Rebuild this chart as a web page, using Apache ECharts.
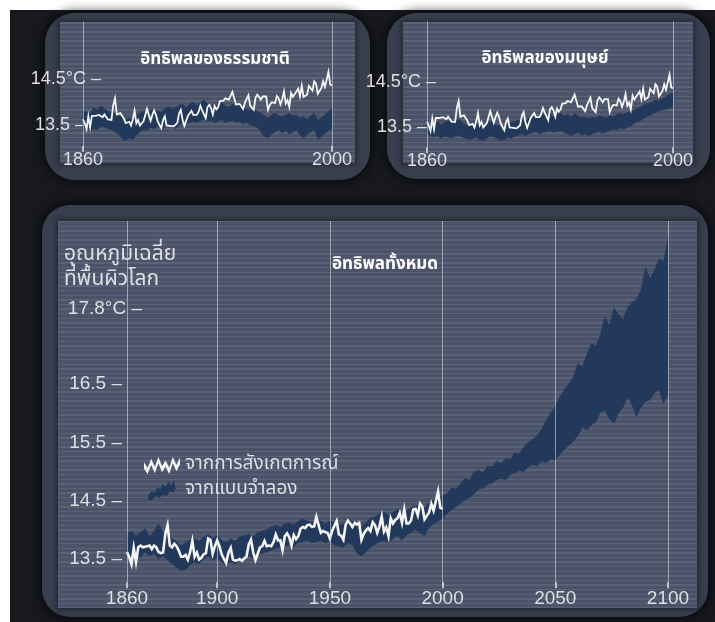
<!DOCTYPE html>
<html>
<head>
<meta charset="utf-8">
<script src="https://cdn.jsdelivr.net/npm/echarts@6/dist/echarts.min.js"></script>
<style>
  html, body { margin: 0; padding: 0; }
  body { width: 715px; height: 622px; position: relative; overflow: hidden;
         background: #17191f; }
  .edge-top { position: absolute; left: 0; top: 0; width: 715px; height: 10px; background: #fff; }
  .edge-left { position: absolute; left: 0; top: 0; width: 10px; height: 622px; background: #fff; }
  .panel { position: absolute; background: #393f4e; border-radius: 30px;
           box-shadow: 0 0 10px 3px rgba(0,0,0,0.55); }
  .plot { position: absolute; background-color: #4b5369;
          background-image: repeating-linear-gradient(180deg,
              rgba(150,158,182,0.20) 0px, rgba(150,158,182,0.20) 1.5px,
              rgba(0,0,0,0) 1.5px, rgba(0,0,0,0) 4.6px);
          box-shadow: 0 0 5px 2px rgba(20,22,30,0.55); }
  #chart { position: absolute; left: 0; top: 0; width: 715px; height: 622px; }
</style>
</head>
<body>
<div class="edge-top"></div>
<div class="edge-left"></div>
<div class="panel" style="left:45px;top:13px;width:325px;height:167px;"></div>
<div class="plot"  style="left:60px;top:22px;width:295px;height:141px;"></div>
<div class="panel" style="left:387px;top:13px;width:323px;height:166px;"></div>
<div class="plot"  style="left:403px;top:22px;width:290px;height:141px;"></div>
<div class="panel" style="left:42px;top:205px;width:666px;height:412px;border-radius:28px;"></div>
<div class="plot"  style="left:58px;top:221px;width:639px;height:387px;"></div>
<div id="chart"></div>
<script>
// Observed annual mean surface temperature (°C), 1860 to 2000
const OBS_START = 1860;
const OBS_TEMP = [
  13.62, 13.53, 13.41, 13.69, 13.45, 13.70, 13.73, 13.70, 13.71, 13.72,
  13.73, 13.67, 13.73, 13.70, 13.62, 13.60, 13.61, 13.93, 14.08, 13.73,
  13.70, 13.76, 13.72, 13.64, 13.54, 13.54, 13.57, 13.49, 13.62, 13.81,
  13.54, 13.61, 13.49, 13.52, 13.58, 13.60, 13.85, 13.83, 13.59, 13.72,
  13.82, 13.72, 13.58, 13.50, 13.43, 13.61, 13.69, 13.49, 13.47, 13.48,
  13.50, 13.47, 13.51, 13.54, 13.75, 13.83, 13.61, 13.48, 13.59, 13.70,
  13.72, 13.81, 13.72, 13.73, 13.72, 13.79, 13.92, 13.82, 13.82, 13.65,
  13.89, 13.94, 13.87, 13.73, 13.91, 13.84, 13.89, 14.02, 14.05, 14.03,
  14.08, 14.09, 14.05, 14.06, 14.22, 14.08, 13.95, 13.98, 13.96, 13.95,
  13.85, 13.98, 14.07, 14.15, 13.92, 13.90, 13.83, 14.09, 14.16, 14.11,
  14.05, 14.12, 14.09, 14.12, 13.83, 13.93, 13.99, 14.03, 13.98, 14.13,
  14.08, 13.95, 14.06, 14.23, 13.97, 14.04, 13.89, 14.20, 14.11, 14.17,
  14.20, 14.29, 14.12, 14.35, 14.11, 14.11, 14.16, 14.35, 14.36, 14.25,
  14.45, 14.40, 14.18, 14.24, 14.30, 14.45, 14.33, 14.49, 14.66, 14.38,
  14.36
];

// Model range, natural + human forcing, every 2 years from 1860 to 2100
const BAND_START = 1860;
const BAND_STEP = 2;
const ALL_LO = [
  13.58, 13.55, 13.60, 13.52, 13.62, 13.55, 13.60, 13.50, 13.55, 13.48,
  13.42, 13.35, 13.30, 13.32, 13.40, 13.45, 13.42, 13.50, 13.55, 13.48,
  13.52, 13.45, 13.40, 13.45, 13.42, 13.48, 13.50, 13.55, 13.52, 13.58,
  13.60, 13.62, 13.65, 13.68, 13.70, 13.72, 13.75, 13.72, 13.78, 13.80,
  13.82, 13.78, 13.80, 13.82, 13.78, 13.80, 13.75, 13.72, 13.70, 13.78,
  13.75, 13.60, 13.55, 13.62, 13.70, 13.75, 13.80, 13.82, 13.78, 13.85,
  13.90, 13.82, 13.92, 13.95, 14.00, 13.95, 13.90, 14.05, 14.10, 14.15,
  14.20,
  14.28, 14.35, 14.40, 14.45, 14.52, 14.55, 14.62, 14.70, 14.72, 14.78,
  14.80, 14.86, 14.88, 14.85, 14.95, 14.98, 15.02, 15.00, 15.08, 15.12,
  15.10, 15.18, 15.15, 15.22, 15.20, 15.30, 15.38, 15.45, 15.52, 15.62,
  15.76, 15.72, 15.80, 15.85, 16.02, 16.06, 15.90, 15.83, 16.00, 16.10,
  16.28, 16.15, 15.94, 16.10, 16.20, 16.23, 16.35, 16.40, 16.18, 16.30
];
const ALL_HI = [
  13.92, 13.98, 13.90, 13.95, 14.02, 13.88, 13.98, 14.10, 13.95, 13.92,
  13.85, 13.80, 13.72, 13.78, 13.82, 13.85, 13.80, 13.88, 13.92, 13.85,
  13.90, 13.82, 13.78, 13.85, 13.80, 13.88, 13.90, 13.92, 13.88, 13.95,
  13.98, 14.00, 14.05, 14.08, 14.05, 14.10, 14.12, 14.08, 14.15, 14.18,
  14.15, 14.12, 14.18, 14.15, 14.10, 14.15, 14.12, 14.08, 14.10, 14.18,
  14.15, 14.10, 14.05, 14.12, 14.20, 14.22, 14.28, 14.30, 14.25, 14.30,
  14.35, 14.28, 14.32, 14.38, 14.40, 14.42, 14.38, 14.45, 14.50, 14.55,
  14.58,
  14.62, 14.72, 14.70, 14.80, 14.88, 14.85, 15.00, 15.02, 14.98, 15.10,
  15.08, 15.18, 15.14, 15.22, 15.20, 15.32, 15.30, 15.42, 15.50, 15.55,
  15.62, 15.72, 15.88, 16.00, 16.12, 16.28, 16.40, 16.50, 16.62, 16.85,
  16.80, 17.00, 17.20, 17.15, 17.35, 17.65, 17.50, 17.80, 17.70, 17.60,
  17.80, 17.90, 17.95, 18.10, 18.50, 18.30, 18.45, 18.65, 18.60, 19.02
];

// Model range, natural forcing only, every 2 years from 1860 to 2000
const NAT_LO = [
  13.40, 13.45, 13.38, 13.42, 13.40, 13.48, 13.45, 13.42, 13.40, 13.35,
  13.30, 13.20, 13.15, 13.22, 13.18, 13.28, 13.35, 13.40, 13.38, 13.45,
  13.42, 13.48, 13.40, 13.45, 13.50, 13.48, 13.42, 13.50, 13.55, 13.52,
  13.55, 13.58, 13.55, 13.60, 13.62, 13.58, 13.60, 13.55, 13.58, 13.62,
  13.55, 13.58, 13.60, 13.55, 13.58, 13.52, 13.55, 13.50, 13.48, 13.45,
  13.35, 13.25, 13.22, 13.30, 13.35, 13.40, 13.32, 13.38, 13.30, 13.35,
  13.40, 13.28, 13.22, 13.30, 13.35, 13.40, 13.20, 13.25, 13.32, 13.38,
  13.42
];
const NAT_HI = [
  13.80, 13.78, 13.75, 13.88, 13.82, 13.92, 13.85, 13.80, 13.78, 13.75,
  13.70, 13.68, 13.60, 13.65, 13.62, 13.70, 13.75, 13.80, 13.78, 13.82,
  13.85, 13.80, 13.78, 13.85, 13.90, 13.85, 13.88, 13.92, 13.95, 13.88,
  13.95, 14.00, 13.92, 13.98, 14.05, 13.95, 13.92, 13.90, 13.95, 13.98,
  13.92, 13.88, 13.95, 13.90, 13.92, 13.88, 13.85, 13.82, 13.85, 13.80,
  13.75, 13.70, 13.65, 13.72, 13.75, 13.70, 13.68, 13.72, 13.75, 13.70,
  13.72, 13.65, 13.68, 13.62, 13.70, 13.75, 13.60, 13.65, 13.72, 13.80,
  13.85
];

// Model range, human forcing only, every 2 years from 1860 to 2000
const HUM_LO = [
  13.35, 13.30, 13.28, 13.32, 13.25, 13.30, 13.28, 13.25, 13.30, 13.32,
  13.28, 13.25, 13.22, 13.25, 13.28, 13.22, 13.20, 13.25, 13.30, 13.28,
  13.25, 13.20, 13.22, 13.28, 13.25, 13.30, 13.32, 13.35, 13.30, 13.35,
  13.38, 13.40, 13.35, 13.38, 13.40, 13.42, 13.38, 13.40, 13.42, 13.38,
  13.35, 13.30, 13.35, 13.38, 13.32, 13.35, 13.30, 13.35, 13.38, 13.40,
  13.36, 13.40, 13.42, 13.45, 13.42, 13.48, 13.45, 13.50, 13.52, 13.58,
  13.62, 13.65, 13.70, 13.75, 13.78, 13.82, 13.85, 13.88, 13.90, 13.92,
  13.95
];
const HUM_HI = [
  13.60, 13.55, 13.58, 13.62, 13.55, 13.60, 13.65, 13.58, 13.62, 13.68,
  13.60, 13.55, 13.52, 13.58, 13.60, 13.55, 13.50, 13.55, 13.62, 13.58,
  13.55, 13.50, 13.52, 13.58, 13.60, 13.62, 13.65, 13.68, 13.62, 13.70,
  13.72, 13.75, 13.72, 13.78, 13.75, 13.80, 13.72, 13.78, 13.80, 13.75,
  13.78, 13.72, 13.80, 13.75, 13.70, 13.72, 13.68, 13.72, 13.70, 13.75,
  13.72, 13.70, 13.75, 13.72, 13.78, 13.80, 13.78, 13.82, 13.85, 13.88,
  13.92, 13.95, 14.00, 14.02, 14.05, 14.10, 14.08, 14.12, 14.18, 14.22,
  14.25
];

// Axis ticks and text
const MAIN_YEAR_TICKS = [1860, 1900, 1950, 2000, 2050, 2100];
const MAIN_TEMP_TICKS = [13.5, 14.5, 15.5, 16.5, 17.8];
const SMALL_YEAR_TICKS = [1860, 2000];
const SMALL_TEMP_TICKS = [13.5, 14.5];
const TITLE_ALL = 'อิทธิพลทั้งหมด';
const TITLE_NATURAL = 'อิทธิพลของธรรมชาติ';
const TITLE_HUMAN = 'อิทธิพลของมนุษย์';
const Y_NAME = ['อุณหภูมิเฉลี่ย', 'ที่พื้นผิวโลก'];
const NAME_OBS = 'จากการสังเกตการณ์';
const NAME_MODEL = 'จากแบบจำลอง';

const NUM_FONT = "'Liberation Sans', Arial, 'DejaVu Sans', sans-serif";
const THAI_FONT = "'Noto Sans Thai', 'Noto Sans', 'Liberation Sans', sans-serif";
const TEXT_COLOR = '#dedfe3';
const BAND_COLOR = '#22395b';
const LINE_COLOR = '#f4f4f4';
const GRIDLINE_COLOR = 'rgba(214,218,228,0.6)';

const obsPoints = OBS_TEMP.map((v, i) => [OBS_START + i, v]);
const bandYear = i => BAND_START + i * BAND_STEP;

// Shaded model range: one polygon along the upper values and back along the lower ones
function bandSeries(lo, hi, gridIdx, gridLines) {
  const pts = lo.map((v, i) => [bandYear(i), v, hi[i]]);
  return {
    type: 'custom', name: NAME_MODEL, xAxisIndex: gridIdx, yAxisIndex: gridIdx,
    silent: true, itemStyle: { color: BAND_COLOR },
    data: pts,
    encode: { x: 0, y: [1, 2] },
    renderItem: (params, api) => {
      if (params.dataIndex !== 0) return null;
      const upper = pts.map(p => api.coord([p[0], p[2]]));
      const lower = pts.map(p => api.coord([p[0], p[1]])).reverse();
      return {
        type: 'polygon',
        shape: { points: upper.concat(lower) },
        style: { fill: BAND_COLOR, stroke: BAND_COLOR, lineWidth: 0.6 }
      };
    },
    markLine: {
      silent: true, symbol: ['none', 'none'], label: { show: false },
      lineStyle: { color: GRIDLINE_COLOR, width: 1, type: 'solid' },
      data: gridLines.map(x => ({ xAxis: x }))
    },
    z: 2
  };
}
function obsSeries(gridIdx, width) {
  return {
    type: 'line', name: NAME_OBS, xAxisIndex: gridIdx, yAxisIndex: gridIdx,
    symbol: 'none', silent: true, color: LINE_COLOR,
    lineStyle: { color: LINE_COLOR, width: width, join: 'miter' },
    data: obsPoints, z: 3
  };
}
function xAxisFor(gridIdx, min, max, ticks, fontSize, margin) {
  return {
    type: 'value', gridIndex: gridIdx, min: min, max: max,
    axisLine: { show: false }, splitLine: { show: false },
    axisTick: { show: true, customValues: ticks, length: 6,
                lineStyle: { color: '#e8e8ec', width: 1.5 } },
    axisLabel: { customValues: ticks, color: TEXT_COLOR, fontSize: fontSize,
                 fontFamily: NUM_FONT, margin: margin, formatter: v => String(v) }
  };
}
function yAxisFor(gridIdx, min, max, ticks, unitTick, margin, shift, fontSize) {
  return {
    type: 'value', gridIndex: gridIdx, min: min, max: max,
    axisLine: { show: false }, axisTick: { show: false }, splitLine: { show: false },
    axisLabel: {
      customValues: ticks, margin: margin, color: TEXT_COLOR, fontSize: fontSize,
      fontFamily: NUM_FONT,
      formatter: v => v === unitTick ? '{u|' + v.toFixed(1) + '°C –}' : '{n|' + v.toFixed(1) + ' –}',
      rich: {
        u: { color: TEXT_COLOR, fontSize: fontSize, fontFamily: NUM_FONT },
        n: { color: TEXT_COLOR, fontSize: fontSize, fontFamily: NUM_FONT, padding: [0, shift, 0, 0] }
      }
    }
  };
}

const OBS_ICON = 'path://M0,6 L4,12 L8,2 L12,11 L16,0 L20,10 L24,4 L28,12 L32,0 L36,9 L40,1 L40,8 L36,16 L32,7 L28,19 L24,11 L20,17 L16,7 L12,18 L8,9 L4,19 L0,13 Z';
const MODEL_ICON = 'path://M0,22 L0,16 L4,12 L7,14 L10,8 L13,10 L16,4 L19,8 L22,2 L25,6 L28,0 L30,10 L27,14 L24,12 L20,18 L16,16 L12,20 L8,18 L4,22 Z';

const chart = echarts.init(document.getElementById('chart'), null, { renderer: 'canvas' });
chart.setOption({
  animation: false,
  backgroundColor: 'transparent',
  grid: [
    { left: 127, right: 47, top: 220.9, bottom: 39.7 },
    { left: 83, right: 383, top: 21.5, bottom: 476.3 },
    { left: 427, right: 42, top: 21.25, bottom: 474.75 }
  ],
  xAxis: [
    xAxisFor(0, 1860, 2100, MAIN_YEAR_TICKS, 19, 7),
    xAxisFor(1, 1860, 2000, SMALL_YEAR_TICKS, 18, 5),
    xAxisFor(2, 1860, 2000, SMALL_YEAR_TICKS, 18, 5)
  ],
  yAxis: [
    yAxisFor(0, 13.1, 19.3, MAIN_TEMP_TICKS, 17.8, -15, 20, 19),
    yAxisFor(1, 13.05, 15.75, SMALL_TEMP_TICKS, 14.5, -18, 16, 18),
    yAxisFor(2, 13.05, 15.85, SMALL_TEMP_TICKS, 14.5, -9, 9, 18)
  ],
  legend: {
    left: 139, top: 451, orient: 'vertical', itemGap: 5,
    itemWidth: 36, itemHeight: 20, selectedMode: false,
    textStyle: { color: TEXT_COLOR, fontSize: 19, fontFamily: THAI_FONT },
    data: [
      { name: NAME_OBS, icon: OBS_ICON, itemStyle: { color: LINE_COLOR } },
      { name: NAME_MODEL, icon: MODEL_ICON, itemStyle: { color: BAND_COLOR } }
    ]
  },
  graphic: [
    { type: 'text', x: 385, y: 266, style: { text: TITLE_ALL, align: 'center', verticalAlign: 'middle',
      fill: '#ffffff', font: 'bold 17px ' + THAI_FONT } },
    { type: 'text', x: 215, y: 61, style: { text: TITLE_NATURAL, align: 'center', verticalAlign: 'middle',
      fill: '#ffffff', font: 'bold 17px ' + THAI_FONT } },
    { type: 'text', x: 545, y: 60, style: { text: TITLE_HUMAN, align: 'center', verticalAlign: 'middle',
      fill: '#ffffff', font: 'bold 17px ' + THAI_FONT } },
    { type: 'text', x: 64, y: 256, style: { text: Y_NAME[0], align: 'left', verticalAlign: 'middle',
      fill: TEXT_COLOR, font: '21px ' + THAI_FONT } },
    { type: 'text', x: 64, y: 281, style: { text: Y_NAME[1], align: 'left', verticalAlign: 'middle',
      fill: TEXT_COLOR, font: '21px ' + THAI_FONT } }
  ],
  series: [
    bandSeries(ALL_LO, ALL_HI, 0, MAIN_YEAR_TICKS),
    obsSeries(0, 2.6),
    bandSeries(NAT_LO, NAT_HI, 1, SMALL_YEAR_TICKS),
    obsSeries(1, 1.8),
    bandSeries(HUM_LO, HUM_HI, 2, SMALL_YEAR_TICKS),
    obsSeries(2, 1.8)
  ]
});
</script>
</body>
</html>
